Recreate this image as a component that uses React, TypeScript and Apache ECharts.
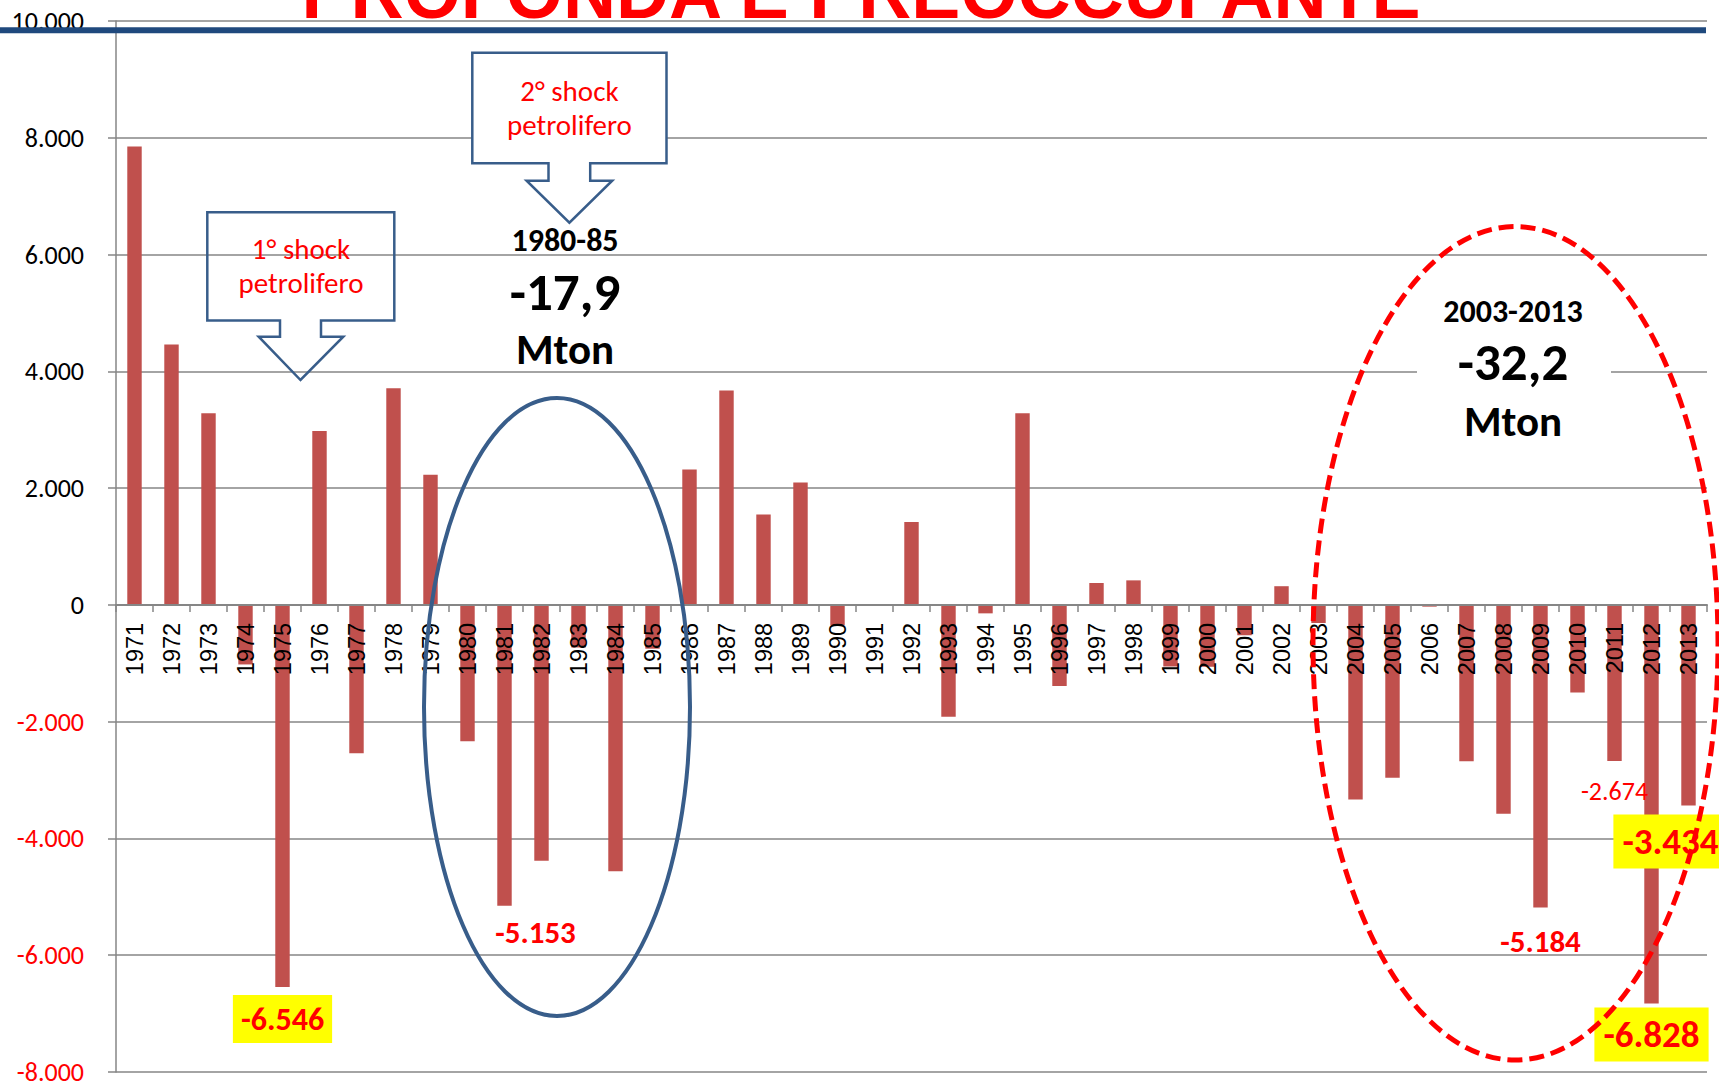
import React, { useEffect, useRef } from 'react';
import * as echarts from 'echarts';

// ---- data ----
const years = [
  '1971', '1972', '1973', '1974', '1975', '1976', '1977', '1978', '1979', '1980',
  '1981', '1982', '1983', '1984', '1985', '1986', '1987', '1988', '1989', '1990',
  '1991', '1992', '1993', '1994', '1995', '1996', '1997', '1998', '1999', '2000',
  '2001', '2002', '2003', '2004', '2005', '2006', '2007', '2008', '2009', '2010',
  '2011', '2012', '2013',
];
const values = [
  7850, 4460, 3280, -1020, -6546, 2980, -2540, 3710, 2230, -2335,
  -5153, -4380, -730, -4560, -750, 2320, 3670, 1550, 2095, -350,
  15, 1420, -1915, -145, 3280, -1390, 375, 420, -1055, -1060,
  -520, 320, -310, -3335, -2960, -30, -2680, -3575, -5184, -1500,
  -2674, -6828, -3434,
];
const yMin = -8000;
const yMax = 10000;
const yStep = 2000;
const titleText = 'PROFONDA E PREOCCUPANTE';
const shock1 = ['1° shock', 'petrolifero'];
const shock2 = ['2° shock', 'petrolifero'];
const period1 = ['1980-85', '-17,9', 'Mton'];
const period2 = ['2003-2013', '-32,2', 'Mton'];
const labelledYears = ['1975', '1981', '2009', '2011', '2012', '2013'];

// ---- styles ----
const FONT = 'Carlito, Lato, sans-serif';
const BAR = '#C0504D';
const GRID = '#868686';
const RED = '#FF0000';
const BLUE = '#385D8A';
const W = 1719;
const H = 1083;
const GRID_TOP = 21;
const GRID_BOTTOM = 11;
const GRID_LEFT = 116;
const GRID_RIGHT = 12;

const fmt = (v: number) => {
  const s = Math.abs(v).toString().replace(/\B(?=(\d{3})+(?!\d))/g, '.');
  return (v < 0 ? '-' : '') + s;
};

const labelCfg: Record<string, any> = {
  '1975': { fontSize: 32, fontWeight: 'bold', backgroundColor: '#FFFF00', padding: [8, 8], lineHeight: 32, distance: 8, offset: [0, 0] },
  '1981': { fontSize: 31, fontWeight: 'bold', lineHeight: 31, distance: 11, offset: [31, 0] },
  '2009': { fontSize: 31, fontWeight: 'bold', lineHeight: 31, distance: 18, offset: [0, 0] },
  '2011': { fontSize: 26, fontWeight: 'normal', lineHeight: 26, distance: 17, offset: [0, 0] },
  '2012': { fontSize: 37, fontWeight: 'bold', backgroundColor: '#FFFF00', padding: [8, 9], lineHeight: 38, distance: 4, offset: [0, 0] },
  '2013': { fontSize: 37, fontWeight: 'bold', backgroundColor: '#FFFF00', padding: [8, 9], lineHeight: 38, distance: 9, offset: [-18, 0] },
};

function txt(text: string, x: number, y: number, size: number, color: string, weight: string, family = FONT, z = 110) {
  return {
    type: 'text',
    x,
    y,
    z,
    style: {
      text,
      fill: color,
      fontSize: size,
      fontWeight: weight,
      fontFamily: family,
      align: 'center',
      verticalAlign: 'middle',
    },
  };
}

export default function App() {
  const ref = useRef<HTMLDivElement>(null);

  useEffect(() => {
    if (!ref.current) return;
    const chart = echarts.init(ref.current, undefined, { renderer: 'svg' });

    const data = values.map((v, i) => {
      const y = years[i];
      if (labelledYears.includes(y)) {
        const c = labelCfg[y];
        return {
          value: v,
          label: {
            show: true,
            position: 'bottom',
            formatter: (p: any) => fmt(p.value),
            color: RED,
            fontFamily: FONT,
            ...c,
          },
        };
      }
      return v;
    });

    // distance of the zero line above the grid bottom, from the value scale
    const gridH = H - GRID_TOP - GRID_BOTTOM;
    const zeroOffset = ((0 - yMin) / (yMax - yMin)) * gridH;

    const callout = (l: number, t: number, r: number, b: number, s1: number, s2: number, sb: number, h1: number, h2: number, tx: number, ty: number) => [
      [l, t], [r, t], [r, b], [s2, b], [s2, sb], [h2, sb], [tx, ty], [h1, sb], [s1, sb], [s1, b], [l, b],
    ];

    const option: any = {
      animation: false,
      grid: {
        left: GRID_LEFT,
        right: GRID_RIGHT,
        top: GRID_TOP,
        bottom: GRID_BOTTOM,
        containLabel: false,
        outerBoundsMode: 'none',
      },
      xAxis: {
        type: 'category',
        data: years,
        z: 3,
        position: 'bottom',
        offset: -zeroOffset,
        axisLine: { onZero: false, lineStyle: { color: GRID, width: 2 } },
        axisTick: { show: true, length: 7, lineStyle: { color: GRID, width: 1.5 } },
        axisLabel: {
          interval: 0,
          rotate: 90,
          margin: 18,
          fontFamily: 'Liberation Sans, Arial, sans-serif',
          fontSize: 23.5,
          color: '#000',
        },
        splitLine: { show: false },
      },
      yAxis: {
        type: 'value',
        min: yMin,
        max: yMax,
        interval: yStep,
        axisLine: { show: true, lineStyle: { color: GRID, width: 1.5 } },
        axisTick: { show: true, length: 8, lineStyle: { color: GRID, width: 1.5 } },
        splitLine: { show: true, lineStyle: { color: GRID, width: 1.5 } },
        axisLabel: {
          margin: 32,
          fontFamily: FONT,
          fontSize: 26,
          color: (v: any) => (Number(v) < 0 ? RED : '#000'),
          formatter: (v: number) => fmt(v),
        },
      },
      series: [
        {
          type: 'bar',
          data,
          barWidth: '39%',
          itemStyle: { color: BAR },
          z: 2,
        },
      ],
      graphic: {
        elements: [
          txt(titleText, 861, -8, 73.5, RED, 'bold', 'Liberation Sans, Arial, sans-serif', 120),
          { type: 'rect', z: 121, shape: { x: 0, y: 27.3, width: 1706, height: 6 }, style: { fill: '#1F497D' } },
          {
            type: 'polygon',
            z: 105,
            shape: { points: callout(207.3, 212.3, 394.3, 320.5, 280, 321, 336.7, 258.7, 343.3, 300.5, 380) },
            style: { fill: 'none', stroke: BLUE, lineWidth: 2.5 },
          },
          {
            type: 'polygon',
            z: 105,
            shape: { points: callout(472.3, 52.7, 666.5, 163.3, 548.5, 590.2, 180.7, 526.6, 612.2, 569.4, 222.7) },
            style: { fill: '#fff', stroke: BLUE, lineWidth: 2.5 },
          },
          txt(shock1[0], 301, 249, 29, RED, 'normal'),
          txt(shock1[1], 301, 283, 29, RED, 'normal'),
          txt(shock2[0], 569.4, 91, 29, RED, 'normal'),
          txt(shock2[1], 569.4, 125, 29, RED, 'normal'),
          txt(period1[0], 565, 240.3, 32, '#000', 'bold'),
          txt(period1[1], 565, 291.5, 53, '#000', 'bold'),
          txt(period1[2], 565, 349, 43, '#000', 'bold'),
          { type: 'rect', z: 1, shape: { x: 1417, y: 290, width: 194, height: 155 }, style: { fill: '#fff' } },
          txt(period2[0], 1513, 311.9, 32, '#000', 'bold'),
          txt(period2[1], 1513, 362, 53, '#000', 'bold'),
          txt(period2[2], 1513, 421, 43, '#000', 'bold'),
          {
            type: 'ellipse',
            z: 115,
            shape: { cx: 557, cy: 707, rx: 133, ry: 309 },
            style: { fill: 'none', stroke: BLUE, lineWidth: 4 },
          },
          {
            type: 'ellipse',
            z: 115,
            shape: { cx: 1515.5, cy: 643.3, rx: 202.5, ry: 416.7 },
            style: { fill: 'none', stroke: RED, lineWidth: 5, lineDash: [15, 7] },
          },
        ],
      },
    };

    chart.setOption(option);
    return () => chart.dispose();
  }, []);

  return (
    <div
      ref={ref}
      style={{ position: 'absolute', left: 0, top: 0, width: W, height: H, background: '#fff' }}
    />
  );
}
